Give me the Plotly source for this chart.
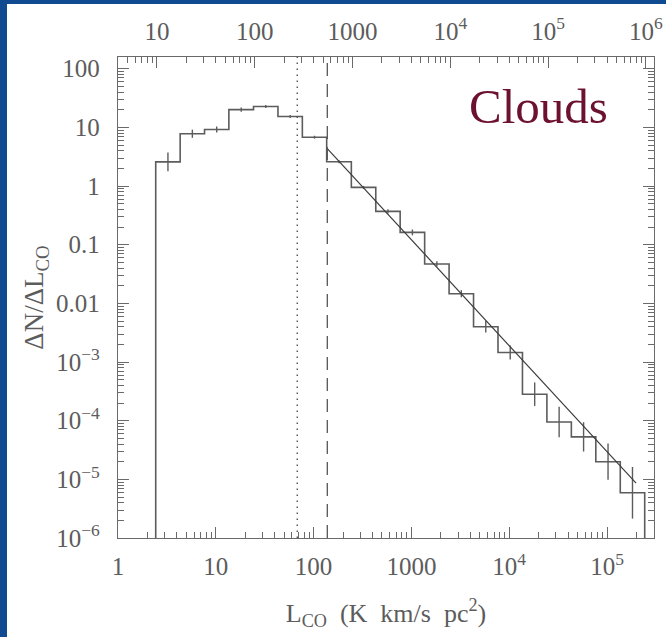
import numpy as np
import plotly.graph_objects as go

# Cloud CO luminosity function: histogram bin edges (K km/s pc^2)
lum_edges = [2.43, 4.32, 7.67, 13.6, 24.3, 43.2, 76.7, 136, 243, 432, 767,
             1365, 2427, 4315, 7674, 13650, 24270, 43150, 76740, 136500, 242700]
# dN/dL_CO in each bin
dn_dl = [2.58, 7.8, 9.2, 20.1, 22.7, 15.3, 6.8, 2.6, 0.95, 0.37, 0.162,
         0.047, 0.0146, 0.0040, 0.00145, 2.83e-4, 9.5e-5, 5.3e-5, 2.0e-5, 5.9e-6]
# 1-sigma uncertainty of each bin, in dex
err_dex = [0.16, 0.07, 0.05, 0.035, 0.025, 0.025, 0.025, 0.025, 0.025, 0.035,
           0.05, 0.045, 0.06, 0.10, 0.12, 0.20, 0.26, 0.25, 0.31, 0.44]

# power-law fit above the completeness limit (end points)
fit_lum = [138, 198000]
fit_dn = [4.35, 8.6e-6]

# completeness / fit-range markers
lum_dotted = 68
lum_dashed = 138

# top axis: mass per unit luminosity
mass_per_lum = 4.0

x_ticks = [1, 10, 100, 1000, 1e4, 1e5]
x_text = ["1", "10", "100", "1000", "10<sup>4</sup>", "10<sup>5</sup>"]
top_ticks = [10, 100, 1000, 1e4, 1e5, 1e6]
top_text = ["10", "100", "1000", "10<sup>4</sup>", "10<sup>5</sup>", "10<sup>6</sup>"]
y_ticks = [1e-6, 1e-5, 1e-4, 1e-3, 0.01, 0.1, 1, 10, 100]
y_text = ["10<sup>\u22126</sup>", "10<sup>\u22125</sup>", "10<sup>\u22124</sup>",
          "10<sup>\u22123</sup>", "0.01", "0.1", "1", "10", "100"]

x_log_range = [0.0, 5.48]
y_log_range = [-6.0, 2.2]

INK = "#5c5c5c"
AX = "#6a6a6a"
FONT = "Liberation Serif"


def minor_vals(lo, hi):
    return [m * 10.0 ** d for d in range(lo, hi) for m in range(2, 10)]


edges = np.array(lum_edges)
vals = np.array(dn_dl)
floor = 10 ** (y_log_range[0] - 1)

# stepped outline, dropping to the floor at both ends
step_x = [edges[0]] + list(edges[:-1]) + [edges[-1]]
step_y = [floor] + list(vals) + [floor]

centers = np.sqrt(edges[:-1] * edges[1:])
ed = np.array(err_dex)
err_up = vals * (10 ** ed - 1)
err_dn = vals * (1 - 10 ** (-ed))

fig = go.Figure()

fig.add_trace(go.Scatter(
    x=step_x, y=step_y, mode="lines", line=dict(color=INK, width=1.6, shape="hv"),
    hoverinfo="skip", showlegend=False))

fig.add_trace(go.Scatter(
    x=centers, y=vals, mode="markers",
    marker=dict(size=1, color="rgba(0,0,0,0)"),
    error_y=dict(type="data", symmetric=False, array=err_up, arrayminus=err_dn,
                 thickness=1.4, width=0, color=INK),
    showlegend=False))

fig.add_trace(go.Scatter(
    x=fit_lum, y=fit_dn, mode="lines", line=dict(color="#3c3c3c", width=1.2),
    showlegend=False))

# invisible trace to carry the top (mass) axis
fig.add_trace(go.Scatter(
    x=[10 ** x_log_range[0] * mass_per_lum, 10 ** x_log_range[1] * mass_per_lum],
    y=[1, 1], xaxis="x2", mode="markers", marker=dict(size=1, color="rgba(0,0,0,0)"),
    hoverinfo="skip", showlegend=False))

fig.add_shape(type="line", xref="x", yref="y domain", x0=lum_dotted, x1=lum_dotted,
              y0=0, y1=1, line=dict(color="#444", width=1.3, dash="1.5px,4.5px"))
fig.add_shape(type="line", xref="x", yref="y domain", x0=lum_dashed, x1=lum_dashed,
              y0=0, y1=1, line=dict(color="#555", width=1.3, dash="13px,8px"))

# page background: blue slide with a white panel
fig.add_shape(type="rect", xref="paper", yref="paper", layer="below",
              x0=-(118 - 7) / 536, x1=(666 - 118) / 536 + 0.05,
              y0=-99 / 481 - 0.05, y1=1 + (57 - 4) / 481,
              fillcolor="white", line=dict(width=0))

fig.add_annotation(text="Clouds", xref="paper", yref="paper", x=0.784, y=0.897,
                   xanchor="center", yanchor="middle", showarrow=False,
                   font=dict(family=FONT, size=49, color="#6c1230"))

tick_font = dict(family=FONT, size=25, color=INK)
common = dict(type="log", showline=True, linecolor=AX, linewidth=1.3,
              ticks="inside", ticklen=11, tickwidth=1.2, tickcolor=AX,
              showgrid=False, zeroline=False, tickmode="array",
              tickfont=tick_font, automargin=False)

fig.update_layout(
    width=666, height=637,
    margin=dict(l=118, r=12, t=57, b=99),
    paper_bgcolor="#104a90", plot_bgcolor="white",
    xaxis=dict(common, range=x_log_range, tickvals=x_ticks, ticktext=x_text,
               ticklabelstandoff=6,
               minor=dict(ticks="inside", ticklen=6, tickwidth=1.1, tickcolor=AX,
                          tickmode="array", tickvals=minor_vals(0, 6)),
               title=dict(text="L<sub>CO</sub>\u00a0\u00a0(K\u00a0\u00a0km/s\u00a0\u00a0pc<sup>2</sup>)",
                          font=dict(family=FONT, size=26, color=INK), standoff=24)),
    xaxis2=dict(common, overlaying="x", side="top", anchor="y",
                range=[x_log_range[0] + np.log10(mass_per_lum),
                       x_log_range[1] + np.log10(mass_per_lum)],
                tickvals=top_ticks, ticktext=top_text, ticklabelstandoff=6,
                minor=dict(ticks="inside", ticklen=6, tickwidth=1.1, tickcolor=AX,
                           tickmode="array", tickvals=minor_vals(0, 7))),
    yaxis=dict(common, range=y_log_range, tickvals=y_ticks, ticktext=y_text,
               mirror="ticks", ticklabelstandoff=12,
               minor=dict(ticks="inside", ticklen=6, tickwidth=1.1, tickcolor=AX,
                          tickmode="array", tickvals=minor_vals(-6, 3)),
               title=dict(text="\u0394N/\u0394L<sub>CO</sub>",
                          font=dict(family=FONT, size=27, color=INK), standoff=4)),
)

fig.write_html("out.html")
